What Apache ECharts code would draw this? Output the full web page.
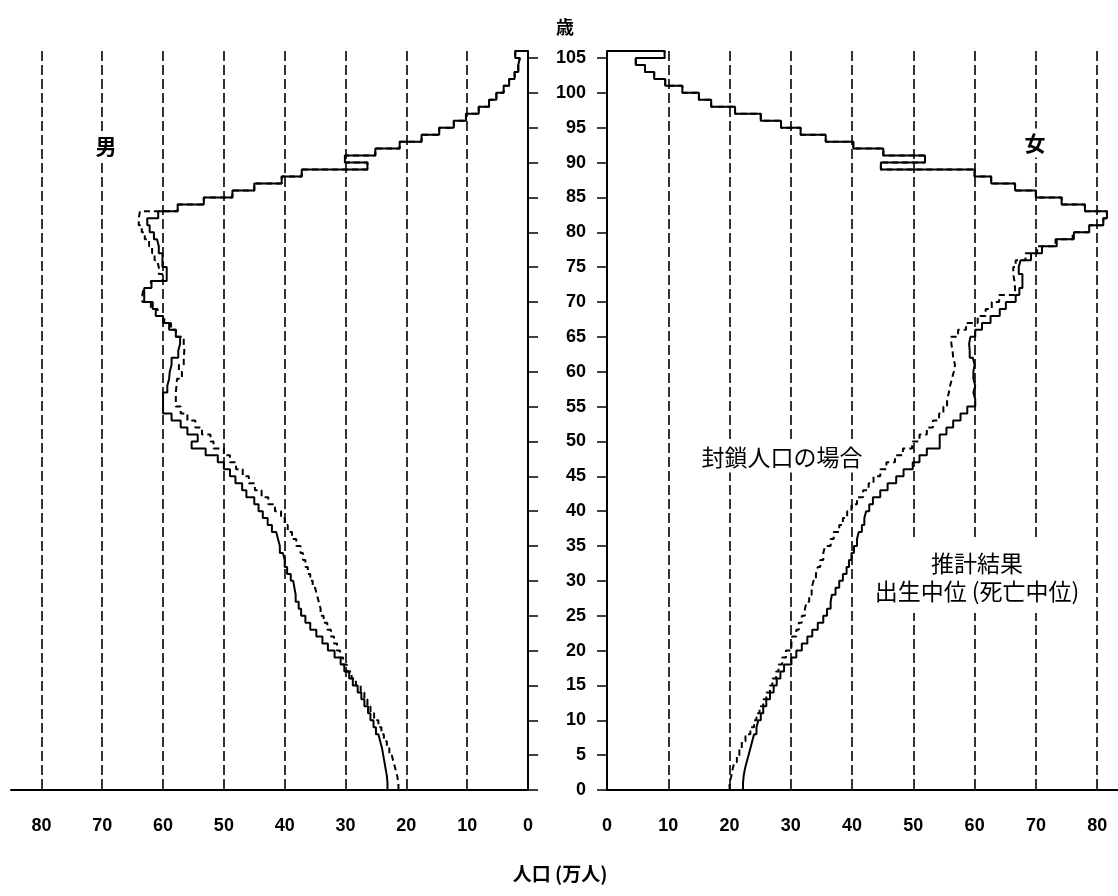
<!DOCTYPE html>
<html><head><meta charset="utf-8">
<script src="https://cdn.jsdelivr.net/npm/echarts@6/dist/echarts.min.js"></script>
<style>html,body{margin:0;padding:0;background:#fff}#c{width:1118px;height:896px}</style>
</head><body><div id="c"></div>
<script>
// age classes 0..105 (105 = 105 and over)
const ages = Array.from({length: 106}, (_, i) => i);
// 推計結果 出生中位(死亡中位) – male, 万人
const maleProjected = [23.1,23.2,23.4,23.6,23.8,24.0,24.3,24.6,25.0,25.4,
  25.9,26.3,26.9,27.4,28.0,28.8,29.4,30.2,30.8,31.8,
  32.9,33.8,34.8,35.8,36.6,37.3,37.7,38.2,38.4,38.6,
  39.0,39.6,40.0,40.3,40.8,41.1,41.4,42.1,42.8,43.6,
  44.3,45.0,46.3,47.0,48.1,49.0,50.0,51.0,53.0,55.3,
  54.3,56.0,57.1,58.6,60.0,60.0,60.0,59.3,59.0,58.9,
  58.6,58.6,57.5,57.2,57.2,57.9,59.0,60.0,61.2,61.7,
  63.1,63.1,61.9,59.4,59.4,60.1,60.1,60.7,61.0,61.5,
  62.2,62.6,60.8,57.6,53.3,48.6,45.0,40.5,37.2,26.4,
  30.1,25.1,21.1,17.5,14.6,12.2,10.2,8.1,6.4,5.2,
  4.0,3.1,2.2,1.6,1.35,2.1];
// 封鎖人口の場合 – male
const maleClosed = [21.3,21.5,21.8,22.1,22.4,22.8,23.2,23.7,24.1,24.6,
  25.3,25.9,26.4,26.9,27.5,28.3,29.0,29.8,30.4,30.9,
  31.4,31.9,32.4,33.0,33.6,34.1,34.4,34.7,35.0,35.4,
  35.8,36.2,36.6,37.0,37.4,38.1,38.8,39.5,40.0,40.6,
  41.6,42.7,43.8,44.9,45.9,46.9,48.0,49.0,50.0,51.7,
  52.2,53.6,54.7,56.0,57.1,57.9,57.9,57.8,57.7,56.9,
  57.4,56.6,56.5,56.6,56.6,57.9,58.7,59.8,60.9,62.0,
  63.4,63.2,62.0,60.1,60.7,61.0,61.4,61.8,62.3,63.0,
  63.5,64.0,63.8,57.6,53.3,48.6,45.0,40.5,37.2,26.4,
  30.1,25.1,21.1,17.5,14.6,12.2,10.2,8.1,6.4,5.2,
  4.0,3.1,2.2,1.6,1.35,2.1];
// 推計結果 – female
const femaleProjected = [22.2,22.3,22.5,22.8,23.1,23.4,23.7,24.0,24.4,24.7,
  25.1,25.5,26.0,26.6,27.2,27.7,28.3,28.9,30.1,30.9,
  31.8,32.7,33.5,34.4,35.3,35.9,36.5,36.7,37.3,37.9,
  38.5,39.1,39.5,39.9,40.3,40.8,41.1,41.6,42.0,42.3,
  42.8,43.4,44.6,45.8,47.2,48.4,49.9,51.0,52.2,54.3,
  54.3,55.4,56.5,57.7,58.8,60.1,59.8,60.1,59.8,59.8,
  60.0,59.7,59.2,59.1,59.3,60.1,61.2,62.6,64.1,65.1,
  66.7,67.3,67.8,67.8,67.2,67.5,69.2,71.0,73.4,76.2,
  78.7,81.0,81.6,78.0,74.2,70.0,66.6,62.7,60.0,44.7,
  51.9,45.1,40.2,35.7,31.6,28.4,25.1,20.9,17.0,15.0,
  12.3,9.5,7.7,6.2,4.7,9.4];
// 封鎖人口の場合 – female
const femaleClosed = [20.0,20.3,20.5,20.8,21.2,21.6,22.0,22.6,23.4,24.0,
  24.4,24.9,25.5,26.0,26.6,27.0,27.6,28.0,28.6,29.2,
  30.1,30.2,30.9,31.3,31.8,32.3,32.6,33.0,33.4,33.7,
  34.1,34.4,34.8,35.3,35.6,36.5,37.0,37.9,38.5,39.2,
  39.9,40.8,41.8,42.7,43.5,44.6,45.6,47.0,48.3,49.8,
  51.0,52.2,53.2,54.2,54.9,55.5,55.8,56.0,56.3,56.6,
  56.8,56.5,56.4,56.2,56.2,57.3,58.6,60.5,61.8,62.8,
  64.0,66.6,66.5,66.3,66.3,66.7,68.3,70.2,73.2,76.0,
  78.7,81.0,81.6,78.0,74.2,70.0,66.6,62.7,60.0,44.7,
  51.9,45.1,40.2,35.7,31.6,28.4,25.1,20.9,17.0,15.0,
  12.3,9.5,7.7,6.2,4.7,9.4];
const popTicks = [0,10,20,30,40,50,60,70,80];
const ageTicks = [0,5,10,15,20,25,30,35,40,45,50,55,60,65,70,75,80,85,90,95,100,105];

function stepPoints(vals) {
  const pts = [];
  vals.forEach((v, i) => { pts.push([v, ages[i]]); pts.push([v, ages[i] + 1]); });
  pts.push([0, ages[ages.length - 1] + 1]);
  return pts;
}

const NUM_FONT = '"Liberation Sans",Arial,sans-serif';
const JP_FONT = '"Noto Sans CJK JP","Noto Sans CJK SC",sans-serif';
const dashGrid = {show: true, showMinLine: false, showMaxLine: false,
  lineStyle: {color: '#000', width: 1.6, type: [10, 4]}};
const lab = {fontFamily: NUM_FONT, fontSize: 18, fontWeight: 'bold', color: '#000'};
const axisLn = {show: true, lineStyle: {color: '#000', width: 2}};

const chart = echarts.init(document.getElementById('c'), null, {renderer: 'canvas'});
chart.setOption({
  animation: false,
  backgroundColor: '#fff',
  grid: [
    {left: 11, width: 517, top: 51, bottom: 106},
    {left: 607, width: 511, top: 51, bottom: 106}
  ],
  xAxis: [
    {gridIndex: 0, type: 'value', min: 0, max: 85, interval: 10, inverse: true,
     axisLine: axisLn, axisTick: {show: false}, splitLine: dashGrid,
     axisLabel: Object.assign({}, lab, {customValues: popTicks, margin: 27})},
    {gridIndex: 1, type: 'value', min: 0, max: 83.4, interval: 10,
     axisLine: axisLn, axisTick: {show: false}, splitLine: dashGrid,
     axisLabel: Object.assign({}, lab, {customValues: popTicks, margin: 27})}
  ],
  yAxis: [
    {gridIndex: 0, type: 'value', min: 0, max: 106, interval: 5, position: 'right',
     axisLine: axisLn,
     axisTick: {show: true, length: 10, customValues: ageTicks, lineStyle: {color: '#000', width: 1.5}},
     axisLabel: {show: false}, splitLine: {show: false}},
    {gridIndex: 1, type: 'value', min: 0, max: 106, interval: 5, position: 'left',
     axisLine: axisLn,
     axisTick: {show: true, length: 10, customValues: ageTicks, lineStyle: {color: '#000', width: 1.5}},
     axisLabel: Object.assign({}, lab, {customValues: ageTicks, margin: 21}),
     splitLine: {show: false}}
  ],
  series: [
    {name: '封鎖人口の場合 男', type: 'line', xAxisIndex: 0, yAxisIndex: 0, data: stepPoints(maleClosed),
     showSymbol: false, lineStyle: {color: '#000', width: 2, type: [6, 4]}, z: 3},
    {name: '推計結果 男', type: 'line', xAxisIndex: 0, yAxisIndex: 0, data: stepPoints(maleProjected),
     showSymbol: false, lineStyle: {color: '#000', width: 2}, z: 4},
    {name: '封鎖人口の場合 女', type: 'line', xAxisIndex: 1, yAxisIndex: 1, data: stepPoints(femaleClosed),
     showSymbol: false, lineStyle: {color: '#000', width: 2, type: [6, 4]}, z: 3},
    {name: '推計結果 女', type: 'line', xAxisIndex: 1, yAxisIndex: 1, data: stepPoints(femaleProjected),
     showSymbol: false, lineStyle: {color: '#000', width: 2}, z: 4}
  ],
  graphic: [
    {type: 'text', x: 565, y: 27, z: 10, style: {text: '歳', fontFamily: JP_FONT, fontSize: 18, fontWeight: 'bold', fill: '#000', align: 'center', verticalAlign: 'middle'}},
    {type: 'text', x: 560, y: 874, z: 10, style: {text: '人口 (万人)', fontFamily: JP_FONT, fontSize: 19, fontWeight: 'bold', fill: '#000', align: 'center', verticalAlign: 'middle'}},
    {type: 'text', x: 106, y: 146, z: 10, style: {text: '男', fontFamily: JP_FONT, fontSize: 21, fontWeight: 'bold', fill: '#000', align: 'center', verticalAlign: 'middle', backgroundColor: '#fff', padding: [4, 2]}},
    {type: 'text', x: 1035, y: 143, z: 10, style: {text: '女', fontFamily: JP_FONT, fontSize: 21, fontWeight: 'bold', fill: '#000', align: 'center', verticalAlign: 'middle', backgroundColor: '#fff', padding: [4, 2]}},
    {type: 'text', x: 782, y: 457, z: 10, style: {text: '封鎖人口の場合', fontFamily: JP_FONT, fontSize: 23, fill: '#000', align: 'center', verticalAlign: 'middle', backgroundColor: '#fff', padding: [4, 6]}},
    {type: 'text', x: 977, y: 577, z: 10, style: {text: '推計結果\n出生中位 (死亡中位)', fontFamily: JP_FONT, fontSize: 23, lineHeight: 28, fill: '#000', align: 'center', verticalAlign: 'middle', backgroundColor: '#fff', padding: [8, 6]}}
  ]
});
</script>
</body></html>
